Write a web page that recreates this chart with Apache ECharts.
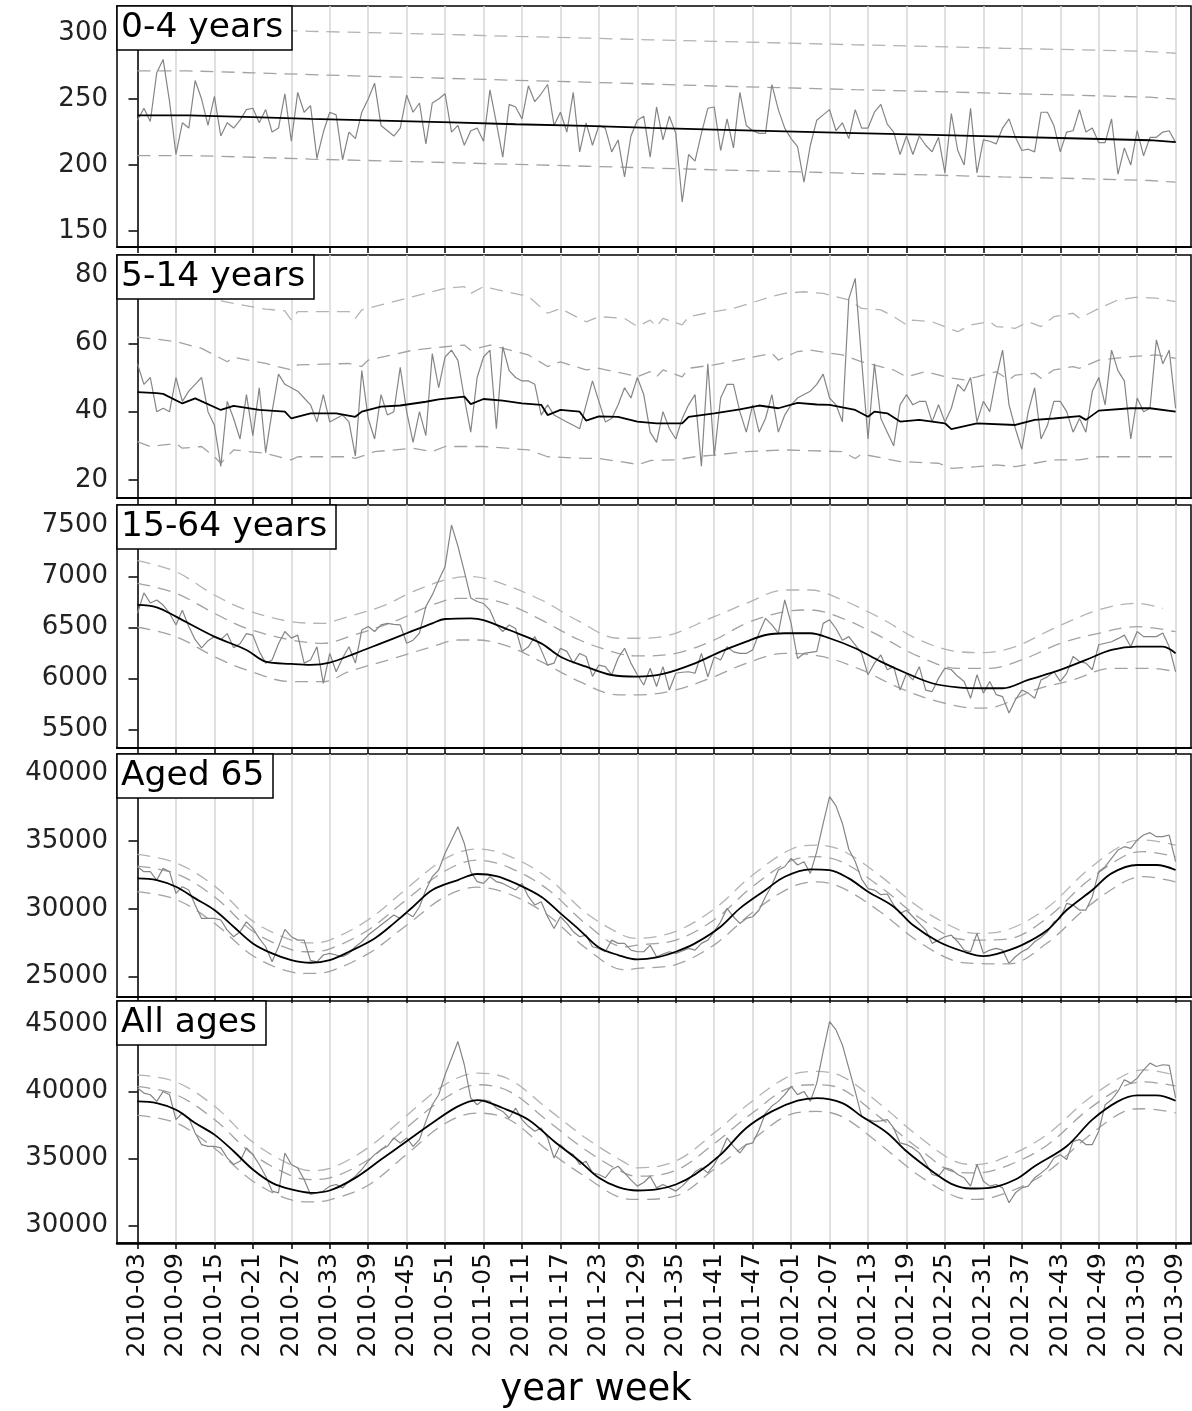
<!DOCTYPE html>
<html><head><meta charset="utf-8">
<script src="https://cdn.jsdelivr.net/npm/echarts@6/dist/echarts.min.js"></script>
<style>html,body{margin:0;padding:0;background:#fff}#c{width:1192px;height:1411px}</style>
</head><body><div id="c"></div>
<script>
const tickLabels = ['2010-03','2010-09','2010-15','2010-21','2010-27','2010-33','2010-39','2010-45','2010-51','2011-05','2011-11','2011-17','2011-23','2011-29','2011-35','2011-41','2011-47','2012-01','2012-07','2012-13','2012-19','2012-25','2012-31','2012-37','2012-43','2012-49','2013-03','2013-09'];
const tickWeeks = [0,6,12,18,24,30,36,42,48,54,60,66,72,78,84,90,96,102,108,114,120,126,132,138,144,150,156,162];
const panelTitles = ['0-4 years','5-14 years','15-64 years','Aged 65','All ages'];
const yTicks = [[150,200,250,300],[20,40,60,80],[5500,6000,6500,7000,7500],[25000,30000,35000,40000],[30000,35000,40000,45000]];

// observed weekly counts (week index 0 = 2010-03)
const obs04 = [234,243,233,270,280,248,208,232,228,264,
250,230,252,222,232,228,234,242,243,232,
242,225,228,254,218,255,240,245,205,225,
240,238,204,225,220,240,250,262,230,226,
222,228,253,240,247,216,247,250,254,225,
230,215,226,228,218,257,232,206,246,244,
235,260,248,254,261,230,240,225,255,210,
232,215,230,228,210,219,191,222,234,237,
206,244,219,237,224,172,208,203,224,243,
244,211,235,213,255,230,226,224,224,261,
242,228,220,214,187,215,234,238,242,226,
232,220,242,228,228,240,246,231,225,208,
222,208,222,215,210,221,194,239,211,200,
243,194,219,218,216,228,235,221,211,212,
210,240,240,230,210,225,226,242,225,228,
217,217,235,193,213,200,226,207,221,221,
225,226,217];
const obs514 = [54,48,50,40,41,40,50,43,46,48,
50,40,36,24,43,38,32,45,33,47,
28,40,51,48,47,46,44,42,37,45,
37,38,39,37,27,52,38,32,45,39,
40,53,40,31,40,33,57,47,56,58,
55,44,34,50,56,58,35,59,52,50,
49,49,48,39,42,39,38,37,36,35,
42,49,43,37,38,42,47,44,50,45,
34,31,40,35,32,38,42,45,24,54,
27,44,48,48,40,34,42,34,38,45,
34,39,42,44,45,46,48,51,44,42,
37,73,79,55,32,54,38,34,30,42,
45,42,43,43,37,42,37,41,48,46,
50,37,43,40,50,58,42,35,29,40,
47,32,36,43,43,40,34,38,34,46,
50,42,58,52,49,32,44,40,41,61,
54,58,41];
const obs1564 = [6640,6840,6740,6770,6720,6640,6525,6670,6510,6380,
6300,6370,6410,6380,6440,6300,6340,6440,6425,6265,
6150,6180,6340,6460,6395,6425,6150,6180,6310,5950,
6245,6065,6200,6310,6150,6475,6510,6460,6525,6540,
6530,6525,6345,6375,6445,6705,6820,6965,7100,7505,
7300,7050,6790,6755,6735,6670,6525,6460,6525,6490,
6265,6310,6410,6280,6130,6150,6295,6265,6150,6245,
6215,6020,6130,6115,6035,6200,6295,6150,6035,5935,
6100,5920,6115,5885,6050,6060,6065,6050,6245,6015,
6210,6180,6310,6260,6245,6245,6280,6445,6590,6525,
6445,6770,6540,6195,6245,6255,6265,6540,6575,6490,
6375,6410,6330,6245,6035,6150,6230,6085,6115,5885,
6050,5985,6115,5885,5870,6000,6100,6085,6020,5970,
5805,6035,5855,5970,5840,5820,5660,5790,5885,5855,
5805,5985,6015,6065,5970,6050,6215,6165,6150,6085,
6330,6345,6360,6390,6425,6310,6460,6410,6410,6410,
6445,6310,6065];
const obs65 = [33110,32745,32745,32130,32990,32745,31145,31640,31390,30285,
29300,29300,29300,29180,28440,27950,28320,29050,28565,27825,
27210,26100,27210,28490,27950,27700,27700,26200,26100,26600,
26720,26600,26470,26720,27210,27580,28070,28440,28810,29180,
29550,29300,29700,29420,30160,31390,32380,32870,34100,35080,
36060,34830,32750,32010,31880,32380,32010,31880,31640,31390,
31880,30900,30290,30530,29420,28560,29420,28930,28320,27950,
28070,27210,27090,26840,27700,27460,27460,26965,26840,26840,
27330,26470,26670,26840,26720,26900,27090,26965,27460,27700,
28320,29050,30040,29420,28930,29300,29420,29920,30900,31760,
32870,33110,33730,33240,33480,32620,34220,36310,38280,37600,
36300,34400,33500,32200,31500,31390,31050,31100,30300,29670,
29900,29420,28930,28440,27460,27700,27950,28070,27580,26965,
26840,28195,26720,26965,27090,26965,25980,26470,26840,27090,
27580,27900,28320,29050,29300,30408,30285,29917,29917,30900,
32745,33112,33730,34343,34589,34466,35080,35449,35621,35326,
35326,35449,33483];
const obsAll = [40240,39870,39745,39250,39990,39745,37885,38380,38010,36895,
36025,35900,35900,35780,35035,34540,34790,35780,35280,34540,
33670,32560,32430,35400,34540,34290,33420,32310,32430,32560,
32930,33050,32800,33300,33670,34170,34790,35280,35650,35900,
36520,36150,36520,35900,36400,37760,39000,39745,41230,42470,
43710,41980,39500,39000,39370,39250,38750,38500,38010,38750,
37890,37390,37020,37265,36520,35030,36030,35530,35280,34540,
34790,33920,33800,33550,34170,34410,33920,33400,32930,33200,
33670,32800,33050,32800,32560,32930,33420,34000,34290,33920,
34540,35400,36520,35900,35400,36030,36150,37140,38380,38900,
39250,39750,40360,39750,39990,39250,40610,42970,45200,44580,
43460,41730,39990,38130,37890,37760,37800,37890,37265,36150,
36030,35780,35410,34660,33800,33670,34290,34170,33800,33550,
32930,34540,33300,32930,33050,32800,31690,32430,32800,32930,
33550,33900,34290,35030,35280,34910,36270,36400,36030,36030,
37020,39000,39370,39990,40860,40610,40980,41600,42100,41850,
41980,41930,39500];

// 0-4 years: stepwise baseline and thresholds
const stepWeeks04 = [0,8,18,27,38,49,59,70,80,90,101,112,124,135,147,158,162];
const base04  = [237.7,236.3,235.0,233.6,232.3,230.9,229.6,228.2,226.9,225.5,224.2,222.8,221.5,220.1,218.8,217.4,217.4];
const inner04 = [271.3,269.9,268.5,267.0,265.6,264.2,262.8,261.4,259.9,258.5,257.1,255.7,254.3,252.8,251.4,250.0,250.0];
const outer04 = [303.9,302.6,301.3,300.1,298.8,297.5,296.2,294.9,293.7,292.4,291.1,289.8,288.5,287.3,286.0,284.7,284.7];
const lower04 = [207.2,205.9,204.5,203.2,201.8,200.5,199.1,197.8,196.4,195.1,193.7,192.4,191.0,189.7,188.3,187.0,187.0];

// 5-14 years [week, value]
const base514 = [[0,45.7],[3,45.4],[4,45.2],[7,42.4],[9,43.9],[13,40.5],[15,41.7],[19,40.5],[23,40.0],[24,38.0],[27,39.5],[31,39.5],[34,38.5],[35,40.0],[38,41.5],[41,41.8],[45,42.9],[47,43.6],[51,44.4],[52,42.2],[54,43.7],[57,43.2],[60,42.4],[63,42.0],[64,39.0],[66,40.5],[69,40.0],[70,37.4],[72,38.6],[75,38.5],[78,37.1],[81,36.6],[85,36.6],[86,38.5],[90,39.5],[94,40.7],[97,41.8],[100,41.0],[103,42.6],[106,42.1],[108,42.0],[112,40.5],[114,38.5],[115,40.0],[117,39.5],[119,37.1],[122,37.6],[126,36.6],[127,34.9],[131,36.6],[137,36.1],[140,37.6],[143,38.0],[147,38.7],[148,37.6],[150,40.3],[155,41.0],[158,41.0],[162,40.0]];
const outer514 = [[0,75],[6,74.5],[11,73.2],[15,71.7],[20,70.0],[23,69.5],[24,66.8],[25,69.3],[33,69.3],[34,67.3],[35,69.8],[43,73.7],[48,76.1],[51,76.6],[52,74.6],[54,76.6],[61,73.7],[64,68.8],[66,70.2],[70,66.3],[72,67.8],[76,67.3],[78,64.9],[80,66.8],[81,64.9],[82,67.3],[85,65.4],[86,67.8],[90,69.3],[93,70.2],[99,73.7],[101,74.6],[104,75.1],[107,74.6],[111,72.7],[113,70.2],[116,69.8],[118,67.8],[120,65.4],[121,66.8],[124,66.3],[128,63.4],[130,65.4],[133,66.3],[134,64.9],[137,64.4],[139,66.3],[141,64.9],[143,67.8],[146,68.8],[147,67.3],[150,70.2],[153,72.7],[156,73.5],[159,73.2],[162,72.2]];
const inner514 = [[0,61.8],[3,61.2],[6,60.5],[10,58.5],[12,56.6],[14,54.6],[15,55.9],[20,54.1],[24,52.2],[25,53.7],[33,54.1],[35,53.2],[36,55.1],[43,58.0],[48,59.0],[51,59.5],[52,58.0],[55,59.5],[61,56.6],[64,53.2],[66,54.6],[70,52.2],[72,52.7],[77,50.7],[78,50.2],[80,51.7],[81,50.2],[82,52.2],[85,50.2],[86,52.7],[90,53.7],[95,55.6],[99,57.1],[100,55.1],[103,57.6],[105,58.0],[110,56.6],[113,54.6],[118,52.2],[120,50.2],[123,51.7],[127,49.8],[129,49.3],[131,50.2],[134,51.7],[136,49.3],[137,50.7],[140,51.2],[141,49.8],[143,52.2],[146,53.2],[147,52.7],[150,55.1],[155,56.1],[159,56.6],[162,55.6]];
const lower514 = [[0,31.2],[2,29.8],[6,30.7],[7,29.3],[10,29.8],[12,26.8],[13,24.9],[15,28.8],[20,27.8],[24,25.9],[25,26.8],[33,26.8],[34,26.3],[37,28.3],[43,29.3],[46,28.3],[48,29.8],[54,29.8],[61,28.8],[64,26.8],[70,26.3],[72,26.3],[77,24.9],[78,24.4],[80,25.7],[84,25.9],[87,26.8],[90,27.3],[95,28.3],[101,28.8],[110,28.3],[112,26.3],[113,27.6],[119,25.4],[125,24.9],[127,23.4],[131,23.9],[134,24.4],[137,23.9],[140,24.9],[143,25.9],[147,25.9],[150,26.8],[162,26.8]];

// 15-64 years
const base1564 = [[0,6721],[3,6698],[6,6606],[12,6410],[17,6279],[20,6164],[24,6142],[27,6132],[30,6155],[34,6246],[38,6344],[42,6443],[46,6541],[48,6583],[52,6590],[54,6573],[58,6475],[63,6344],[66,6213],[70,6115],[74,6033],[78,6017],[82,6043],[87,6148],[91,6263],[95,6361],[98,6426],[101,6443],[105,6443],[108,6394],[112,6296],[116,6164],[120,6050],[124,5952],[128,5912],[132,5903],[135,5903],[139,5985],[144,6083],[148,6181],[152,6279],[156,6312],[160,6312],[162,6246]];
const outer1564 = [[0,7156],[6,7048],[12,6819],[17,6672],[24,6557],[29,6541],[32,6590],[38,6705],[43,6852],[48,6967],[52,7000],[56,6950],[63,6770],[69,6557],[75,6394],[78,6394],[82,6410],[90,6606],[95,6737],[101,6868],[105,6868],[110,6770],[116,6590],[122,6377],[128,6263],[132,6253],[137,6312],[143,6492],[150,6672],[156,6737],[160,6688]];
const inner1564 = [[0,6934],[6,6836],[12,6639],[17,6492],[24,6377],[29,6344],[33,6410],[40,6557],[46,6721],[50,6786],[53,6786],[58,6721],[63,6574],[69,6377],[75,6246],[78,6220],[84,6246],[90,6377],[95,6541],[101,6655],[105,6672],[110,6590],[116,6410],[122,6213],[128,6099],[133,6099],[138,6181],[144,6344],[150,6443],[156,6508],[162,6459]];
const lower1564 = [[0,6502],[6,6410],[12,6213],[17,6083],[24,5968],[29,5968],[33,6066],[40,6197],[46,6312],[50,6377],[53,6377],[58,6312],[63,6164],[69,5968],[75,5838],[78,5838],[84,5886],[90,6017],[95,6148],[101,6246],[107,6213],[113,6083],[119,5903],[125,5772],[131,5707],[134,5723],[140,5886],[146,5985],[152,6099],[158,6099],[162,6066]];

// Aged 65
const base65 = [[0,32253],[3,32130],[6,31638],[9,30777],[12,29917],[15,28687],[18,27457],[21,26719],[24,26227],[27,26030],[30,26227],[33,26842],[37,27826],[40,28933],[43,30162],[46,31392],[50,32130],[53,32573],[56,32425],[59,31884],[63,30900],[66,29670],[69,28441],[72,27150],[75,26600],[78,26276],[81,26424],[84,26842],[87,27457],[91,28687],[94,30039],[98,31392],[101,32376],[105,32917],[108,32868],[111,32253],[114,31269],[118,30162],[121,28810],[125,27580],[129,26842],[132,26522],[134,26670],[138,27334],[142,28441],[145,29917],[149,31392],[152,32622],[156,33237],[159,33237],[162,32868]];
const outer65 = [[0,34020],[6,33400],[12,31700],[18,29100],[24,27700],[27,27500],[30,27700],[36,29200],[42,31500],[48,33700],[53,34420],[58,33900],[64,32300],[70,29700],[76,28000],[78,27830],[84,28350],[90,30000],[96,32500],[102,34400],[106,34710],[110,34300],[116,32400],[122,30100],[128,28500],[131,28200],[136,28500],[142,30100],[148,32750],[154,34800],[157,35080],[162,34700]];
const inner65 = [[0,33160],[6,32600],[12,30900],[18,28350],[24,27000],[27,26840],[30,27050],[36,28450],[42,30700],[48,32800],[53,33600],[58,33050],[64,31450],[70,28900],[76,27200],[78,27330],[84,27700],[90,29200],[96,31650],[102,33550],[106,33850],[110,33450],[116,31600],[122,29350],[128,27800],[131,27700],[136,27800],[142,29350],[148,31950],[154,33900],[157,34220],[162,33850]];
const lower65 = [[0,31270],[6,30700],[12,28950],[18,26550],[24,25350],[27,25240],[30,25400],[36,26700],[42,28800],[48,30900],[53,31600],[58,31100],[64,29550],[70,27100],[76,25500],[78,25610],[84,25900],[90,27350],[96,29750],[102,31600],[106,32000],[110,31550],[116,29750],[122,27550],[128,26100],[131,25980],[136,25950],[142,27500],[148,30050],[154,32000],[157,32380],[162,32000]];

// All ages
const baseAll = [[0,39249],[3,39125],[6,38629],[9,37637],[12,36770],[15,35530],[18,34167],[21,33175],[24,32680],[27,32432],[30,32605],[34,33547],[38,34910],[42,36274],[46,37637],[50,38877],[53,39348],[57,38753],[61,37885],[65,36274],[69,34787],[72,33547],[75,32853],[78,32605],[81,32680],[84,33051],[87,33795],[91,35282],[95,37265],[99,38505],[103,39298],[106,39497],[110,39125],[113,38133],[117,36894],[120,35530],[124,34043],[127,33101],[130,32754],[133,32804],[137,33423],[140,34415],[145,35902],[149,37885],[153,39249],[156,39695],[159,39695],[162,39298]];
const outerAll = [[0,41230],[6,40700],[12,38900],[18,36200],[24,34500],[27,34090],[30,34250],[36,35800],[42,38200],[48,40500],[53,41360],[58,40900],[64,38700],[70,36500],[76,34700],[78,34290],[84,34800],[90,36900],[96,39300],[102,41200],[106,41480],[110,41100],[116,39000],[122,36600],[128,34700],[131,34540],[136,35200],[142,36800],[148,39300],[154,41200],[157,41600],[162,41200]];
const innerAll = [[0,40360],[6,39750],[12,37900],[18,35300],[24,33700],[27,33420],[30,33550],[36,34900],[42,37300],[48,39500],[53,40490],[58,40000],[64,37800],[70,35600],[76,33900],[78,33670],[84,34100],[90,36100],[96,38400],[102,40300],[106,40490],[110,40150],[116,38000],[122,35700],[128,33950],[131,33920],[136,34500],[142,36000],[148,38500],[154,40400],[157,40700],[162,40400]];
const lowerAll = [[0,38210],[6,37650],[12,35750],[18,33300],[24,31900],[27,31760],[30,31900],[36,33000],[42,35300],[48,37600],[53,38380],[58,37900],[64,35600],[70,33600],[76,32000],[78,31940],[84,32200],[90,34200],[96,36400],[102,38300],[106,38500],[110,38100],[116,36000],[122,33700],[128,32100],[131,31940],[136,32500],[142,34000],[148,36500],[154,38500],[157,38700],[162,38400]];

const FONT = 'DejaVu Sans';
const gridBoxes = [
  {top:6, height:241},{top:255, height:243},{top:505, height:243},{top:754, height:243},{top:1001, height:242}
];
const yRanges = [[137.9,320.5],[14.73,85.85],[5316,7703],[23505,41423],[28690,46733]];

const grids = gridBoxes.map(b => ({left:117, width:1074, top:b.top, height:b.height, show:true, borderColor:'#000', borderWidth:1.5, containLabel:false}));
const xAxes = gridBoxes.map((b, i) => ({
  type:'value', gridIndex:i, min:-3.2, max:164.4,
  axisLine:{show:true, onZero:false, lineStyle:{color:'#000', width:i===4 ? 2.5 : 2}},
  axisTick:{show:true, customValues:tickWeeks, length:6, lineStyle:{color:'#000', width:1.5}},
  axisLabel:{show:i===4, customValues:tickWeeks, rotate:90, margin:10, fontFamily:FONT, fontSize:25, color:'#111',
    formatter:v => tickLabels[tickWeeks.indexOf(Math.round(v))] || ''},
  splitLine:{show:true, lineStyle:{color:'#d6d6d6', width:1.5}}
}));
const yAxes = gridBoxes.map((b, i) => ({
  type:'value', gridIndex:i, min:yRanges[i][0], max:yRanges[i][1],
  axisLine:{show:true, lineStyle:{color:'#000', width:1.5}},
  axisTick:{show:true, customValues:yTicks[i], length:9, lineStyle:{color:'#000', width:1.5}},
  axisLabel:{customValues:yTicks[i], margin:9, fontFamily:FONT, fontSize:26, color:'#222',
    formatter:v => String(v)},
  splitLine:{show:false}
}));

const series = [];
function add(gi, data, color, width, dashed, z, smooth, step) {
  series.push({type:'line', xAxisIndex:gi, yAxisIndex:gi, data:data, showSymbol:false, symbol:'none',
    smooth:smooth||false, step:step||false, z:z, silent:true,
    lineStyle:{color:color, width:width, type:dashed ? [13,8] : 'solid'}});
}
const OUT = '#b3b3b3', INN = '#a2a2a2', OBS = '#858585';
const zip = (w, v) => w.map((x, k) => [x, v[k]]);
const idx = arr => arr.map((v, k) => [k, v]);

// panel 0
add(0, zip(stepWeeks04, outer04), OUT, 1.3, true, 2, false, 'end');
add(0, zip(stepWeeks04, inner04), INN, 1.3, true, 2, false, 'end');
add(0, zip(stepWeeks04, lower04), INN, 1.3, true, 2, false, 'end');
add(0, idx(obs04), OBS, 1.2, false, 3);
add(0, zip(stepWeeks04, base04), '#000', 1.8, false, 4, false, 'end');
// panel 1
add(1, outer514, OUT, 1.3, true, 2);
add(1, inner514, INN, 1.3, true, 2);
add(1, lower514, INN, 1.3, true, 2);
add(1, idx(obs514), OBS, 1.2, false, 3);
add(1, base514, '#000', 1.8, false, 4);
// panel 2
add(2, outer1564, OUT, 1.3, true, 2, 0.35);
add(2, inner1564, INN, 1.3, true, 2, 0.35);
add(2, lower1564, INN, 1.3, true, 2, 0.35);
add(2, idx(obs1564), OBS, 1.2, false, 3);
add(2, base1564, '#000', 1.8, false, 4, 0.35);
// panel 3
add(3, outer65, OUT, 1.3, true, 2, 0.35);
add(3, inner65, INN, 1.3, true, 2, 0.35);
add(3, lower65, INN, 1.3, true, 2, 0.35);
add(3, idx(obs65), OBS, 1.2, false, 3);
add(3, base65, '#000', 1.8, false, 4, 0.35);
// panel 4
add(4, outerAll, OUT, 1.3, true, 2, 0.35);
add(4, innerAll, INN, 1.3, true, 2, 0.35);
add(4, lowerAll, INN, 1.3, true, 2, 0.35);
add(4, idx(obsAll), OBS, 1.2, false, 3);
add(4, baseAll, '#000', 1.8, false, 4, 0.35);

const titles = panelTitles.map((t, i) => ({
  text:t, left:117, top:gridBoxes[i].top, padding:[2,9,2,4],
  backgroundColor:'#fff', borderColor:'#000', borderWidth:1.5,
  textStyle:{fontFamily:FONT, fontSize:34.5, fontWeight:'normal', color:'#000', lineHeight:40}
}));

const chart = echarts.init(document.getElementById('c'), null, {renderer:'canvas'});
chart.setOption({
  animation:false,
  backgroundColor:'#fff',
  title:titles,
  grid:grids, xAxis:xAxes, yAxis:yAxes, series:series,
  graphic:[{type:'text', left:'center', top:1372, style:{text:'year week', fontFamily:FONT, fontSize:37, fill:'#000'}}]
});
</script></body></html>
